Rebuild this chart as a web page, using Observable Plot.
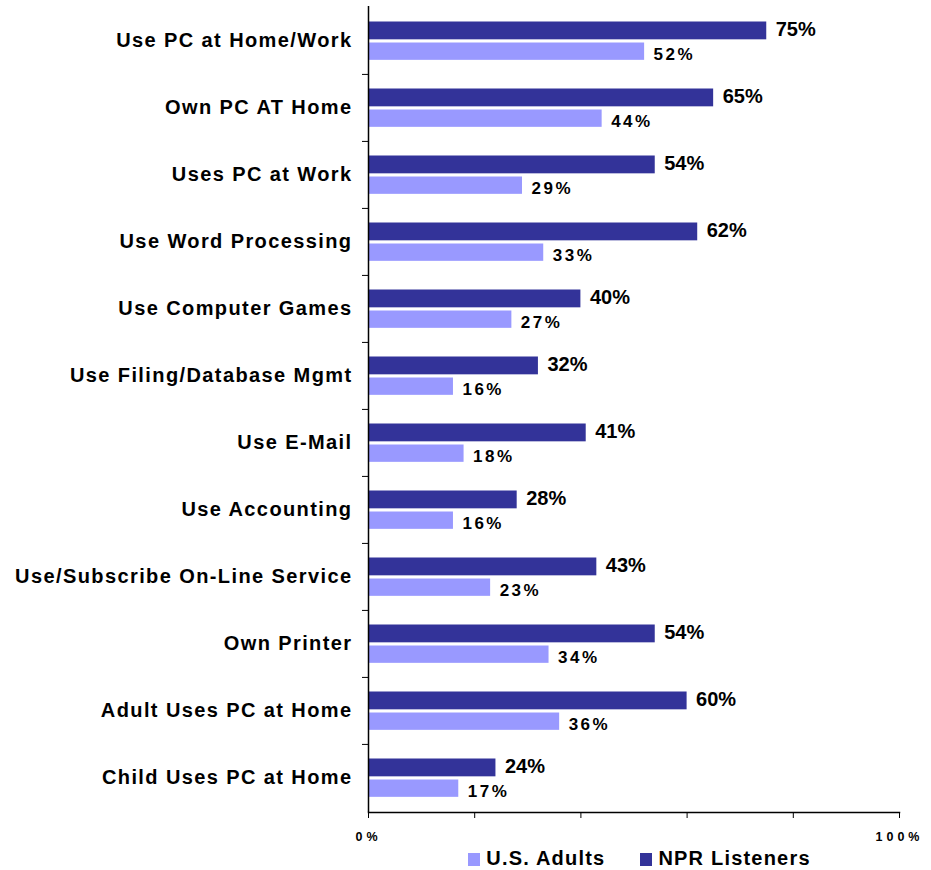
<!DOCTYPE html>
<html>
<head>
<meta charset="utf-8">
<script src="https://cdn.jsdelivr.net/npm/d3@7"></script>
<script src="https://cdn.jsdelivr.net/npm/@observablehq/plot@0.6"></script>
<style>
  body { margin: 0; background: #fff; font-family: "Liberation Sans", Arial, sans-serif; }
  #legend { display: flex; justify-content: center; align-items: center; gap: 35px; height: 25px; margin-left: 348px;
            font-weight: bold; font-size: 20px; color: #000; letter-spacing: 1.2px; }
  #legend span.sw { display: inline-block; width: 12px; height: 13px; margin-right: 6px; vertical-align: -1px; }
</style>
</head>
<body>
<div id="chart"></div>
<div id="legend"></div>
<script>
const categories = [
  "Use PC at Home/Work",
  "Own PC AT Home",
  "Uses PC at Work",
  "Use Word Processing",
  "Use Computer Games",
  "Use Filing/Database Mgmt",
  "Use E-Mail",
  "Use Accounting",
  "Use/Subscribe On-Line Service",
  "Own Printer",
  "Adult Uses PC at Home",
  "Child Uses PC at Home"
];
const nprListeners = [75, 65, 54, 62, 40, 32, 41, 28, 43, 54, 60, 24];
const usAdults = [52, 44, 29, 33, 27, 16, 18, 16, 23, 34, 36, 17];
const seriesNames = ["U.S. Adults", "NPR Listeners"];
const seriesColors = ["#9999FF", "#333399"];
const xTicks = [0, 20, 40, 60, 80, 100];
const xTickLabels = {0: "0%", 100: "100%"};

const npr = categories.map((c, i) => ({category: c, value: nprListeners[i]}));
const us = categories.map((c, i) => ({category: c, value: usAdults[i]}));

const width = 931, height = 846;
const marginTop = 6, marginBottom = 34, marginLeft = 368, marginRight = 32;
const band = (height - marginTop - marginBottom) / categories.length;

const chart = Plot.plot({
  width, height, marginTop, marginBottom, marginLeft, marginRight,
  style: {fontFamily: "'Liberation Sans', Arial, sans-serif", background: "#fff", color: "#000"},
  x: {domain: [0, 100]},
  y: {domain: categories, padding: 0, type: "band"},
  marks: [
    Plot.barX(npr, {x: "value", y: "category", fill: seriesColors[1], insetTop: 14.5, insetBottom: band - 32.5}),
    Plot.barX(us, {x: "value", y: "category", fill: seriesColors[0], insetTop: 35.5, insetBottom: band - 53}),
    Plot.text(npr, {x: "value", y: "category", text: d => d.value + "%", textAnchor: "start", dx: 9, dy: -11,
      fontSize: 20, fontWeight: "bold", fill: "#000"}),
    Plot.text(us, {x: "value", y: "category", text: d => d.value + "%", textAnchor: "start", dx: 9, dy: 14,
      fontSize: 17, fontWeight: "bold", fill: "#000", ariaLabel: () => "us-value"}),
    Plot.ruleX([0], {stroke: "#000", strokeWidth: 1.5}),
    Plot.frame({anchor: "bottom", stroke: "#000", strokeWidth: 1.5}),
    Plot.axisY({tickSize: 0, tickPadding: 16, fontSize: 20, fontWeight: "bold", label: null}),
    Plot.axisY(categories.slice(1), {text: null, tickSize: 6, dy: -band / 2, label: null, stroke: "#000"}),
    Plot.axisX(xTicks, {tickSize: 6, tickPadding: 14, label: null, fontSize: 12.5, fontWeight: "bold",
      tickFormat: d => xTickLabels[d] ?? ""})
  ]
});
const svg = d3.select(chart);
svg.selectAll("g[aria-label='y-axis tick label'] text").style("letter-spacing", "1.4px");
svg.selectAll("g[aria-label='x-axis tick label'] text").style("letter-spacing", "4px");
svg.selectAll("text[aria-label='us-value']").style("letter-spacing", "2.5px");
document.getElementById("chart").appendChild(chart);

const legend = document.getElementById("legend");
seriesNames.forEach((name, i) => {
  const item = document.createElement("div");
  item.innerHTML = `<span class="sw" style="background:${seriesColors[i]}"></span>${name}`;
  legend.appendChild(item);
});
</script>
</body>
</html>
